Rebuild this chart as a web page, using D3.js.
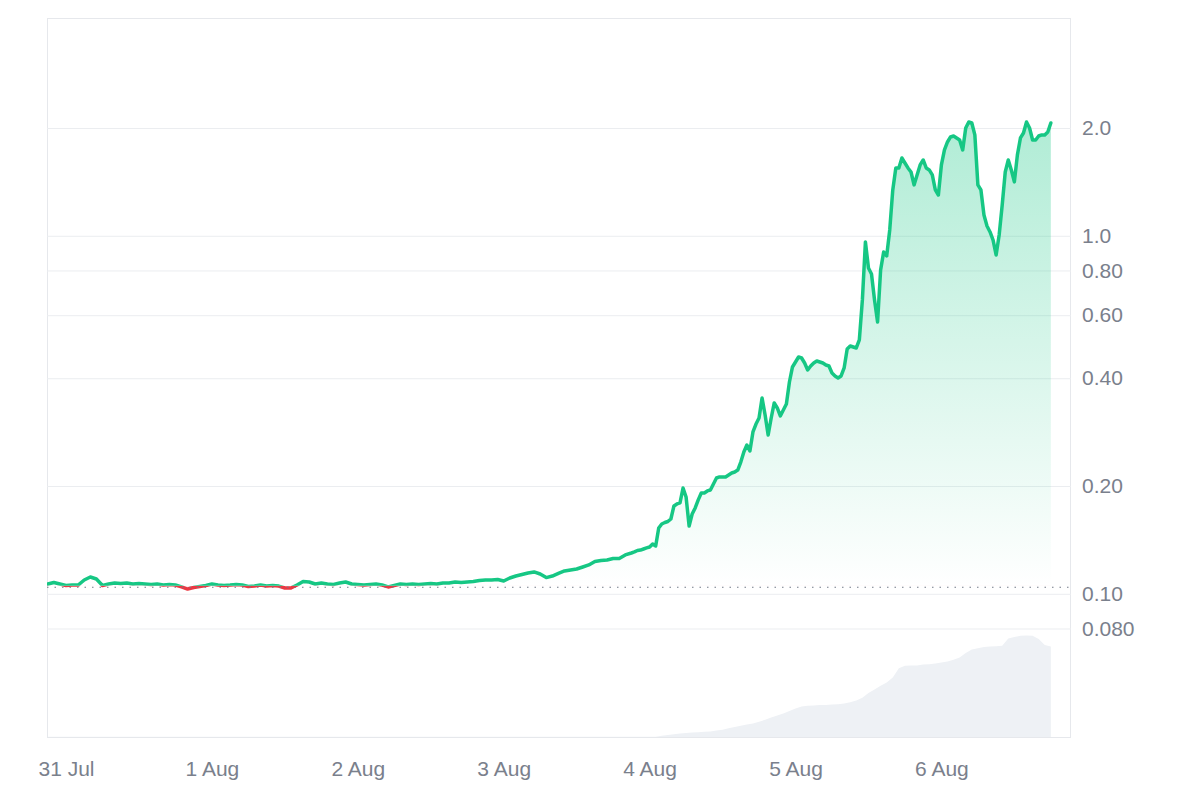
<!DOCTYPE html>
<html><head><meta charset="utf-8">
<script src="https://cdn.jsdelivr.net/npm/d3@7"></script>
<style>
body{margin:0;background:#fff;}
text{font-family:"Liberation Sans",Arial,Helvetica,sans-serif;}
</style>
</head><body>
<svg id="chart" width="1200" height="800"></svg>
<script>
// ---------- DATA ----------
const seriesStart = "2024-07-30T21:00:00Z";
// hourly prices, hours 0..95
const hourlyPrices = [
  0.1065,0.1075,0.1065,0.1055,0.1058,0.1058,0.1093,0.1114,0.1100,0.1055,
  0.1065,0.1072,0.1068,0.1072,0.1065,0.1068,0.1065,0.1062,0.1065,0.1058,
  0.1062,0.1058,0.1045,0.1031,0.1041,0.1048,0.1055,0.1065,0.1058,0.1055,
  0.1058,0.1062,0.1058,0.1048,0.1051,0.1058,0.1051,0.1055,0.1051,0.1038,
  0.1038,0.1058,0.1082,0.1079,0.1065,0.1072,0.1065,0.1062,0.1072,0.1079,
  0.1065,0.1062,0.1058,0.1062,0.1065,0.1058,0.1045,0.1055,0.1065,0.1062,
  0.1065,0.1062,0.1065,0.1068,0.1065,0.1072,0.1072,0.1079,0.1075,0.1079,
  0.1082,0.1089,0.1093,0.1093,0.1096,0.1086,0.1107,0.1121,0.1132,0.1143,
  0.1151,0.1136,0.1110,0.1121,0.1140,0.1158,0.1165,0.1173,0.1188,0.1204,
  0.1231,0.1239,0.1243,0.1255,0.1255,0.1284
];
// half-hourly prices, hours 96.0..165.0
const halfHourPrices = [
  0.1300,0.1309,0.1321,0.1325,0.1334,0.1343,0.1351,0.1378,0.1360,0.1527,
  0.1567,0.1582,0.1592,0.1618,0.1759,0.1782,0.1794,0.1975,0.1864,0.1547,
  0.1671,0.1737,0.1829,0.1913,0.1913,0.1938,0.1950,0.2027,0.2106,0.2120,
  0.2120,0.2120,0.2147,0.2175,0.2189,0.2217,0.2334,0.2489,0.2604,0.2505,
  0.2831,0.2980,0.3098,0.3524,0.3158,0.2777,0.3098,0.3412,0.3304,0.3138,
  0.3262,0.3390,0.3905,0.4301,0.4441,0.4586,0.4557,0.4413,0.4218,0.4328,
  0.4413,0.4470,0.4441,0.4413,0.4356,0.4328,0.4138,0.4059,0.4007,0.4059,
  0.4273,0.4829,0.4923,0.4891,0.4860,0.5116,0.6618,0.9610,0.8129,0.7822,
  0.6618,0.5744,0.8025,0.9011,0.8782,1.038,1.343,1.547,1.547,1.649,
  1.597,1.547,1.507,1.387,1.479,1.577,1.628,1.547,1.527,1.479,
  1.343,1.300,1.577,1.737,1.828,1.888,1.900,1.876,1.852,1.737,
  2.000,2.079,2.066,1.913,1.387,1.343,1.143,1.065,1.025,0.973,
  0.8839,1.005,1.219,1.507,1.628,1.527,1.414,1.682,1.876,1.937,
  2.079,2.000,1.852,1.852,1.900,1.913,1.913,1.950,2.066
];
// hourly trading volume (millions USD), hours 0..165
const hourlyVolume = [
  0.05,0.05,0.05,0.05,0.05,0.05,0.05,0.05,0.05,0.05,
  0.05,0.05,0.05,0.05,0.05,0.05,0.05,0.05,0.05,0.05,
  0.05,0.05,0.05,0.05,0.05,0.05,0.05,0.05,0.05,0.05,
  0.05,0.05,0.05,0.05,0.05,0.05,0.05,0.05,0.05,0.05,
  0.05,0.05,0.05,0.05,0.05,0.05,0.05,0.05,0.05,0.05,
  0.05,0.05,0.05,0.05,0.05,0.05,0.05,0.05,0.05,0.05,
  0.05,0.05,0.05,0.05,0.05,0.05,0.05,0.05,0.05,0.05,
  0.05,0.05,0.05,0.05,0.05,0.05,0.05,0.05,0.05,0.05,
  0.05,0.05,0.05,0.05,0.05,0.05,0.05,0.05,0.05,0.05,
  0.05,0.05,0.05,0.05,0.05,0.05,0.05,0.05,0.05,0.05,
  0.05,0.3,0.5,0.7,0.9,1.0,1.1,1.2,1.3,1.4,
  1.6,1.8,2.2,2.5,2.8,3.1,3.4,3.8,4.3,4.9,
  5.4,5.9,6.5,7.1,7.6,7.8,7.9,8.0,8.0,8.1,
  8.2,8.4,8.7,9.1,9.8,11.0,11.9,12.8,13.6,14.9,
  17.2,17.8,17.9,17.9,18.1,18.2,18.4,18.6,18.9,19.3,
  19.9,21.0,21.9,22.2,22.5,22.6,22.7,22.8,24.6,25.0,
  25.3,25.4,25.3,24.5,23.0,22.6
];
const baselinePrice = 0.1053;
const yTickValues = [2.0, 1.0, 0.8, 0.6, 0.4, 0.2, 0.1, 0.08];
const yTickLabels = ["2.0", "1.0", "0.80", "0.60", "0.40", "0.20", "0.10", "0.080"];
const xTickDates = ["2024-07-31","2024-08-01","2024-08-02","2024-08-03","2024-08-04","2024-08-05","2024-08-06"];
const xTickLabels = ["31 Jul","1 Aug","2 Aug","3 Aug","4 Aug","5 Aug","6 Aug"];

// ---------- BUILD ----------
const HOUR = 3600 * 1000;
const t0 = new Date(seriesStart).getTime();
const priceData = [];
hourlyPrices.forEach((p, i) => priceData.push({ t: new Date(t0 + i * HOUR), p }));
halfHourPrices.forEach((p, i) => priceData.push({ t: new Date(t0 + (96 + i * 0.5) * HOUR), p }));
const volData = hourlyVolume.map((v, i) => ({ t: new Date(t0 + i * HOUR), v }));

const L = 47, R = 1071, T = 18, B = 737;
const svg = d3.select("#chart");

const x = d3.scaleUtc()
  .domain([new Date("2024-07-30T20:52:30Z"), new Date("2024-08-06T21:19:00Z")])
  .range([L, R]);
const y = d3.scaleLog().domain([0.1, 2.0]).range([593.8, 128]);
const yv = d3.scaleLinear().domain([0, 25]).range([B, 637]);
const baseY = y(baselinePrice);

const defs = svg.append("defs");
defs.append("clipPath").attr("id", "plot").append("rect")
  .attr("x", L).attr("y", T).attr("width", R - L).attr("height", B - T);
defs.append("clipPath").attr("id", "above").append("rect")
  .attr("x", L).attr("y", T).attr("width", R - L).attr("height", baseY - T);
defs.append("clipPath").attr("id", "below").append("rect")
  .attr("x", L).attr("y", baseY).attr("width", R - L).attr("height", B - baseY);
const grad = defs.append("linearGradient").attr("id", "gfill")
  .attr("gradientUnits", "userSpaceOnUse").attr("x1", 0).attr("x2", 0)
  .attr("y1", y(2.1)).attr("y2", baseY);
grad.append("stop").attr("offset", 0).attr("stop-color", "#16c784").attr("stop-opacity", 0.34);
grad.append("stop").attr("offset", 1).attr("stop-color", "#16c784").attr("stop-opacity", 0.0);

// border
svg.append("rect").attr("x", L + 0.5).attr("y", T + 0.5).attr("width", R - L - 1).attr("height", B - T)
  .attr("fill", "none").attr("stroke", "#e6e8ec").attr("stroke-width", 1);

// grid + right axis
const yAxis = d3.axisRight(y).tickValues(yTickValues)
  .tickSize(-(R - L)).tickPadding(11)
  .tickFormat((d, i) => yTickLabels[i]);
const gy = svg.append("g").attr("transform", `translate(${R},0)`).call(yAxis);
gy.select(".domain").remove();
gy.selectAll(".tick line").attr("stroke", "#ebedf0").attr("stroke-width", 1);
gy.selectAll(".tick text").attr("fill", "#7a808c").style("font-size", "21px")
  .style("font-family", "'Liberation Sans', Arial, sans-serif");

// x axis
const xAxis = d3.axisBottom(x).tickValues(xTickDates.map(d => new Date(d + "T00:00:00Z")))
  .tickSize(0).tickPadding(24).tickFormat((d, i) => xTickLabels[i]);
const gx = svg.append("g").attr("transform", `translate(0,${B})`).call(xAxis);
gx.select(".domain").remove();
gx.selectAll(".tick text").attr("fill", "#7a808c").style("font-size", "21px")
  .style("font-family", "'Liberation Sans', Arial, sans-serif");

// volume
svg.append("path").datum(volData).attr("clip-path", "url(#plot)")
  .attr("fill", "#eef1f5")
  .attr("d", d3.area().x(d => x(d.t)).y0(B).y1(d => yv(d.v)));

// price area
const area = d3.area().x(d => x(d.t)).y0(baseY).y1(d => y(d.p));
const gp = svg.append("g").attr("clip-path", "url(#plot)");
gp.append("g").attr("clip-path", "url(#above)").append("path").datum(priceData)
  .attr("fill", "url(#gfill)").attr("d", area);
gp.append("g").attr("clip-path", "url(#below)").append("path").datum(priceData)
  .attr("fill", "#ea3943").attr("fill-opacity", 0.08).attr("d", area);

// baseline dotted
svg.append("line").attr("x1", L).attr("x2", R).attr("y1", baseY + 1.5).attr("y2", baseY + 1.5)
  .attr("stroke", "#737a86").attr("stroke-width", 1.2).attr("stroke-dasharray", "1.5,6");

// price lines
const line = d3.line().x(d => x(d.t)).y(d => y(d.p));
gp.append("g").attr("clip-path", "url(#below)").append("path").datum(priceData)
  .attr("fill", "none").attr("stroke", "#ea3943").attr("stroke-width", 3.5)
  .attr("stroke-linejoin", "round").attr("stroke-linecap", "round").attr("d", line);
gp.append("g").attr("clip-path", "url(#above)").append("path").datum(priceData)
  .attr("fill", "none").attr("stroke", "#16c784").attr("stroke-width", 3.5)
  .attr("stroke-linejoin", "round").attr("stroke-linecap", "round").attr("d", line);
</script>
</body></html>
